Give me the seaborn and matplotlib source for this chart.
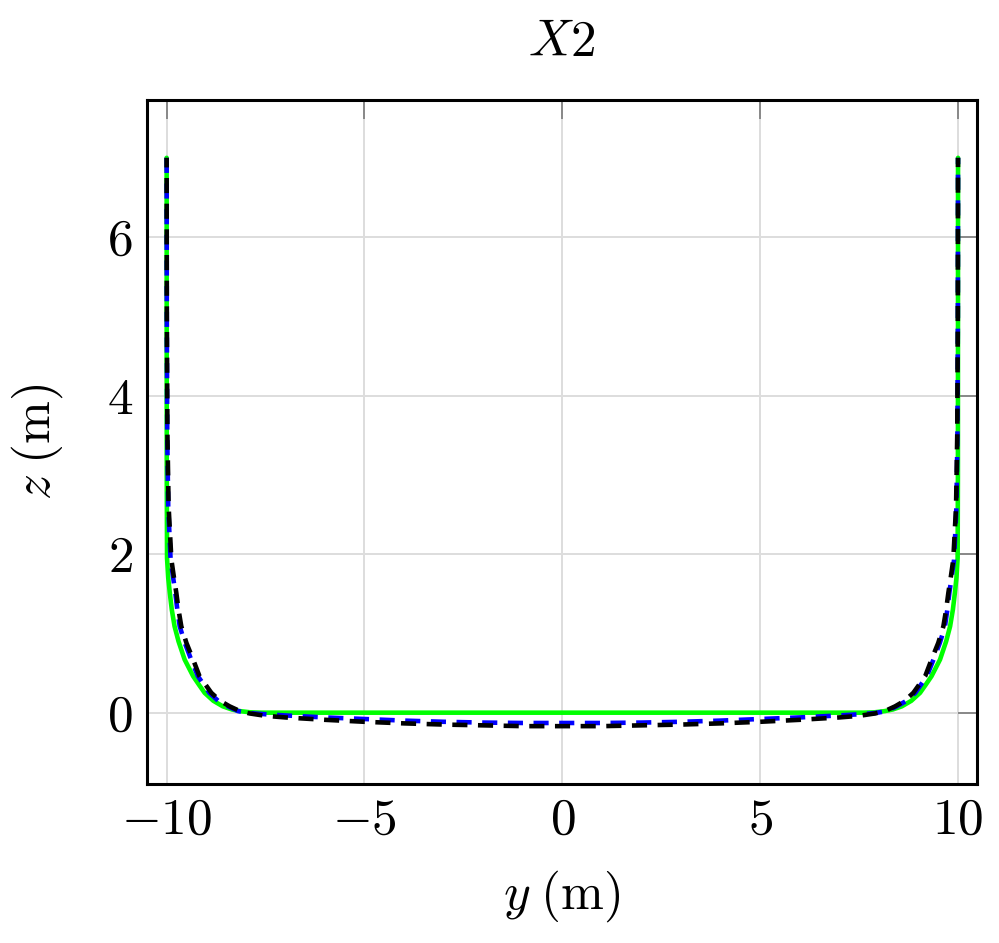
import matplotlib
matplotlib.use("Agg")
import matplotlib.pyplot as plt
import seaborn as sns
import pandas as pd

# left half of each profile (y, z); right half is the mirror image
green_y = [-10.0, -9.999, -9.997, -9.99, -9.96, -9.92, -9.87, -9.80, -9.70, -9.545, -9.33, -9.18, -9.04,
           -8.82, -8.58, -8.35, -8.15, -7.9, -7.6, 0.0]
green_z = [7.0, 5.0, 3.0, 1.95, 1.7, 1.51, 1.30, 1.09, 0.90, 0.67, 0.46, 0.35, 0.25,
           0.15, 0.08, 0.04, 0.02, 0.005, 0.0, 0.0]

blue_y = [-10.0, -9.996, -9.985, -9.96, -9.90, -9.84, -9.78, -9.73, -9.67, -9.54, -9.38, -9.21, -8.92,
          -8.70, -8.45, -8.2, -7.9, -7.5, -7.0, -6.0, -5.0, -4.0, -3.0, -2.0, -1.0, 0.0]
blue_z = [7.0, 5.0, 3.5, 2.6, 1.93, 1.72, 1.51, 1.30, 1.09, 0.88, 0.67, 0.46, 0.25,
          0.15, 0.08, 0.02, -0.005, -0.02, -0.035, -0.06, -0.08, -0.10, -0.115, -0.125, -0.13, -0.13]

black_y = [-10.0, -9.995, -9.98, -9.95, -9.88, -9.82, -9.755, -9.70, -9.63, -9.50, -9.33, -9.17, -8.87,
           -8.65, -8.41, -8.15, -7.9, -7.5, -7.0, -6.0, -5.0, -4.0, -3.0, -2.0, -1.0, 0.0]
black_z = [7.0, 5.0, 3.5, 2.6, 1.93, 1.72, 1.51, 1.30, 1.09, 0.88, 0.67, 0.46, 0.25,
           0.15, 0.08, 0.02, -0.01, -0.04, -0.06, -0.09, -0.115, -0.135, -0.15, -0.16, -0.17, -0.17]

x_ticks = [-10, -5, 0, 5, 10]
y_ticks = [0, 2, 4, 6]


def mirror(ys, zs):
    full_y = ys + [-v for v in reversed(ys[:-1])]
    full_z = zs + list(reversed(zs[:-1]))
    return pd.DataFrame({"y": full_y, "z": full_z})


sns.set_theme(style="white")
plt.rcParams["font.family"] = "serif"
plt.rcParams["font.serif"] = ["cmr10"]
plt.rcParams["mathtext.fontset"] = "cm"
plt.rcParams["axes.formatter.use_mathtext"] = True
plt.rcParams["text.color"] = "black"
plt.rcParams["xtick.labelcolor"] = "black"
plt.rcParams["ytick.labelcolor"] = "black"
plt.rcParams["axes.labelcolor"] = "black"

fig = plt.figure(figsize=(9.99, 9.43), dpi=100)
ax = fig.add_axes([0.147, 0.1686, 0.831, 0.7254])

lw = 3.3
sns.lineplot(data=mirror(green_y, green_z), x="y", y="z", sort=False, estimator=None,
             color="#00ff00", lw=lw, ax=ax)
sns.lineplot(data=mirror(blue_y, blue_z), x="y", y="z", sort=False, estimator=None,
             color="#0000ff", lw=lw, ax=ax)
ax.lines[-1].set_linestyle((0, (3.3, 2.3)))
sns.lineplot(data=mirror(black_y, black_z), x="y", y="z", sort=False, estimator=None,
             color="black", lw=lw, ax=ax)
ax.lines[-1].set_linestyle((1.2, (3.3, 2.3)))

ax.set_xlim(-10.5, 10.48)
ax.set_ylim(-0.9, 7.73)
ax.set_xticks(x_ticks)
ax.set_yticks(y_ticks)
ax.grid(True, color="#dddddd", lw=1.4)
ax.set_axisbelow(True)
for s in ax.spines.values():
    s.set_color("black")
    s.set_linewidth(2.2)
ax.tick_params(direction="in", length=14, width=1.4, color="#888888",
               top=True, right=True, labelsize=37, pad=10)

ax.set_xlabel(r"$y\;(\mathrm{m})$", fontsize=37, labelpad=18)
ax.set_ylabel(r"$z\;(\mathrm{m})$", fontsize=37, labelpad=30)
ax.set_title(r"$X2$", fontsize=37, pad=32)

fig.savefig("out.png", dpi=100)
